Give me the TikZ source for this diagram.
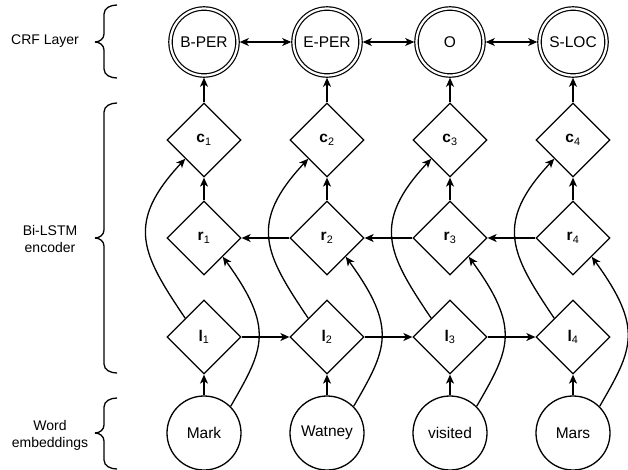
\documentclass[tikz,border=0pt]{standalone}
\usepackage{fontspec}
\setmainfont{Liberation Sans}
\usetikzlibrary{shapes.geometric,arrows.meta}
\begin{document}
\begin{tikzpicture}[x=1pt,y=1pt,
  every path/.style={line width=1.3pt},
  arr/.style={-{Stealth[length=9pt,width=8pt,inset=2.5pt]}},
  darr/.style={{Stealth[length=9pt,width=8pt,inset=2.5pt]}-{Stealth[length=9pt,width=8pt,inset=2.5pt]}},
  crf/.style={circle,draw,line width=1.2pt,double,double distance=2.2pt,minimum size=67pt,inner sep=0pt,outer sep=2.3pt,font=\fontsize{15.5}{18}\selectfont},
  cell/.style={diamond,draw,line width=1.3pt,minimum width=74pt,minimum height=74pt,aspect=1,inner sep=0pt,font=\fontsize{15.5}{18}\selectfont},
  word/.style={circle,draw,line width=1.3pt,minimum size=74pt,inner sep=0pt,font=\fontsize{15.5}{18}\selectfont},
  side/.style={align=center,font=\fontsize{14}{17}\selectfont},
  brace/.style={line width=1.3pt}
]
\useasboundingbox (0,0) rectangle (628,-469);

% CRF layer
\node[crf] (y1) at (204,-42) {B-PER};
\node[crf] (y2) at (327,-42) {E-PER};
\node[crf] (y3) at (450,-42) {O};
\node[crf] (y4) at (573,-42) {S-LOC};

% cells
\foreach \i/\x in {1/204,2/327,3/450,4/573}{
  \node[cell] (c\i) at (\x,-140) {\textbf{c}\textsubscript{\i}};
  \node[cell] (r\i) at (\x,-238) {\textbf{r}\textsubscript{\i}};
  \node[cell] (l\i) at (\x,-337) {\textbf{l}\textsubscript{\i}};
}

% words
\node[word] (w1) at (204,-433) {Mark};
\node[word] (w2) at (327,-433) {Watney};
\node[word] (w3) at (450,-433) {visited};
\node[word] (w4) at (573,-433) {Mars};

% CRF connectors
\draw[darr] (y1) -- (y2);
\draw[darr] (y2) -- (y3);
\draw[darr] (y3) -- (y4);

\foreach \i in {1,2,3,4}{
  \draw[arr] (c\i.north) -- (y\i.south);
  \draw[arr] (r\i.north) -- (c\i.south);
  \draw[arr] (w\i.north) -- (l\i.south);
  \draw[arr] (l\i.north west) .. controls +(124:78) and +(227:88) .. (c\i.south west);
  \draw[arr] (w\i.45) .. controls +(60:66) and +(-54:89) .. (r\i.south east);
}

% forward / backward chains
\draw[arr] (l1.east) -- (l2.west);
\draw[arr] (l2.east) -- (l3.west);
\draw[arr] (l3.east) -- (l4.west);
\draw[arr] (r2.west) -- (r1.east);
\draw[arr] (r3.west) -- (r2.east);
\draw[arr] (r4.west) -- (r3.east);

% braces
\draw[brace] (117,-5) to[out=180,in=90] (104,-14) -- (104,-34) to[out=-90,in=0] (95,-42);
\draw[brace] (95,-42) to[out=0,in=90] (104,-50) -- (104,-69) to[out=-90,in=180] (117,-78);
\draw[brace] (117,-103) to[out=180,in=90] (104,-112) -- (104,-230) to[out=-90,in=0] (95,-238);
\draw[brace] (95,-238) to[out=0,in=90] (104,-246) -- (104,-364) to[out=-90,in=180] (117,-373);
\draw[brace] (117,-398) to[out=180,in=90] (104,-407) -- (104,-425) to[out=-90,in=0] (95,-433);
\draw[brace] (95,-433) to[out=0,in=90] (104,-441) -- (104,-460) to[out=-90,in=180] (117,-469);

% side labels
\node[side] (lab1) at (45,-41) {CRF Layer};
\node[side] (lab2) at (50,-239) {Bi-LSTM\\encoder};
\node[side] (lab3) at (50,-435) {Word\\embeddings};
\end{tikzpicture}
\end{document}
